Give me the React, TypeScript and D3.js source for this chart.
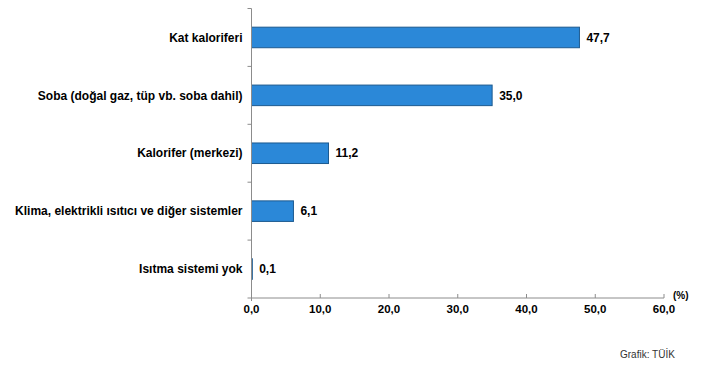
import React from 'react';
import * as d3 from 'd3';

const categories = [
    'Kat kaloriferi',
    'Soba (doğal gaz, tüp vb. soba dahil)',
    'Kalorifer (merkezi)',
    'Klima, elektrikli ısıtıcı ve diğer sistemler',
    'Isıtma sistemi yok'
];
const values = [47.7, 35.0, 11.2, 6.1, 0.1];
const xTicks = [0, 10, 20, 30, 40, 50, 60];

const fmt = (v: number) => v.toFixed(1).replace('.', ',');

export default function App() {
    const width = 703, height = 369;
    const left = 251.5, right = 664, top = 8.5, bottom = 298;

    const x = d3.scaleLinear().domain([0, 60]).range([left, right]);
    const y = d3.scaleBand<string>().domain(categories).range([top, bottom]).paddingInner(0.645).paddingOuter(0.3225);
    const bands = categories.map((c) => d3.scaleBand<string>().domain(categories).range([top, bottom])(c) as number);
    const step = (bottom - top) / categories.length;

    const font = 'Arial, "Liberation Sans", sans-serif';

    return (
        <div style={{ position: 'absolute', left: 0, top: 0 }}>
            <svg width={width} height={height} style={{ display: 'block', background: '#fff' }}>
                {/* bars */}
                {categories.map((c, i) => (
                    <g key={c}>
                        <rect
                            x={x(0)}
                            y={y(c)}
                            width={Math.max(x(values[i]) - x(0), 0.8)}
                            height={y.bandwidth()}
                            fill="#2b88d8"
                            stroke="#1c5a90"
                            strokeWidth={1}
                        />
                        <text
                            x={x(values[i]) + 7}
                            y={(y(c) as number) + y.bandwidth() / 2}
                            dy="0.35em"
                            fontFamily={font}
                            fontWeight="bold"
                            fontSize={12}
                            fill="#000"
                        >{fmt(values[i])}</text>
                        <text
                            x={left - 9}
                            y={(y(c) as number) + y.bandwidth() / 2}
                            dy="0.35em"
                            textAnchor="end"
                            fontFamily={font}
                            fontWeight="bold"
                            fontSize={12}
                            fill="#000"
                        >{c}</text>
                    </g>
                ))}

                {/* y axis */}
                <line x1={left} x2={left} y1={top} y2={bottom + 3} stroke="#8c8c8c" />
                {bands.map((b, i) => (
                    <line key={i} x1={left - 4} x2={left} y1={b} y2={b} stroke="#8c8c8c" />
                ))}
                <line x1={left - 4} x2={left} y1={top + step * categories.length} y2={top + step * categories.length} stroke="#8c8c8c" />

                {/* x axis */}
                <line x1={left} x2={right} y1={bottom} y2={bottom} stroke="#8c8c8c" />
                {xTicks.map((t) => (
                    <g key={t}>
                        <line x1={x(t)} x2={x(t)} y1={bottom - 4} y2={bottom} stroke="#8c8c8c" />
                        <text
                            x={x(t)}
                            y={bottom + 15}
                            textAnchor="middle"
                            fontFamily={font}
                            fontWeight="bold"
                            fontSize={11.5}
                            fill="#000"
                        >{fmt(t)}</text>
                    </g>
                ))}
                <text x={673} y={299} fontFamily={font} fontWeight="bold" fontSize={10} fill="#000">(%)</text>

                <text x={620} y={358} fontFamily={font} fontSize={10} fill="#333">Grafik: TÜİK</text>
            </svg>
        </div>
    );
}
